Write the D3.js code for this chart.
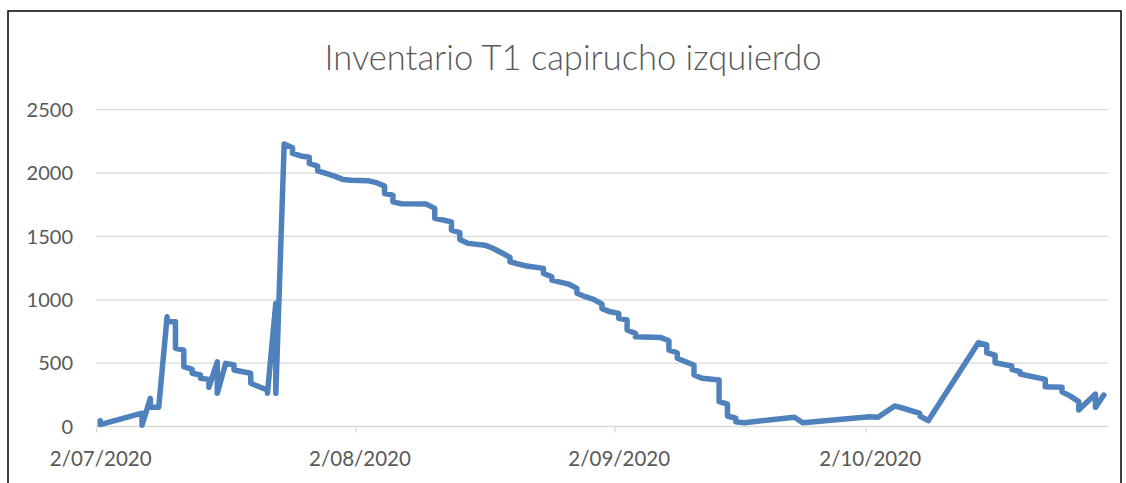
<!DOCTYPE html>
<html>
<head>
<meta charset="utf-8">
<script src="https://cdn.jsdelivr.net/npm/d3@7"></script>
<style>
  body { margin: 0; background: #fff; }
  svg { display: block; }
</style>
</head>
<body>
<script>
// stock movements, one entry per record (same date = vertical step)
const dates = [
  "2020-07-02","2020-07-02","2020-07-07","2020-07-07","2020-07-08","2020-07-08","2020-07-09",
  "2020-07-10","2020-07-10","2020-07-11","2020-07-11","2020-07-12","2020-07-12","2020-07-13","2020-07-13",
  "2020-07-14","2020-07-14","2020-07-15","2020-07-15","2020-07-16","2020-07-16","2020-07-17",
  "2020-07-18","2020-07-18","2020-07-20","2020-07-20","2020-07-21","2020-07-22","2020-07-22",
  "2020-07-23","2020-07-23","2020-07-24","2020-07-25","2020-07-25","2020-07-26","2020-07-27","2020-07-27",
  "2020-07-28","2020-07-28","2020-07-29","2020-07-30","2020-07-31","2020-08-01","2020-08-03","2020-08-04",
  "2020-08-05","2020-08-05","2020-08-06","2020-08-06","2020-08-07","2020-08-10","2020-08-11","2020-08-11",
  "2020-08-12","2020-08-13","2020-08-13","2020-08-14","2020-08-14","2020-08-15","2020-08-17","2020-08-18",
  "2020-08-19","2020-08-20","2020-08-20","2020-08-21","2020-08-22","2020-08-24","2020-08-24",
  "2020-08-25","2020-08-25","2020-08-27","2020-08-28","2020-08-28","2020-08-29","2020-08-30",
  "2020-08-31","2020-08-31","2020-09-01","2020-09-02","2020-09-02","2020-09-03","2020-09-03",
  "2020-09-04","2020-09-04","2020-09-07","2020-09-08","2020-09-08","2020-09-09","2020-09-09","2020-09-10",
  "2020-09-11","2020-09-11","2020-09-12","2020-09-14","2020-09-14","2020-09-15","2020-09-15",
  "2020-09-16","2020-09-16","2020-09-17","2020-09-23","2020-09-24","2020-10-02","2020-10-03",
  "2020-10-05","2020-10-06","2020-10-08","2020-10-08","2020-10-09","2020-10-15","2020-10-16","2020-10-16",
  "2020-10-17","2020-10-17","2020-10-19","2020-10-19","2020-10-20","2020-10-20","2020-10-23","2020-10-23",
  "2020-10-25","2020-10-25","2020-10-26","2020-10-27","2020-10-27","2020-10-29","2020-10-29","2020-10-30"
];
const stock = [
  45,15,105,10,222,151,151,
  866,826,826,617,603,472,451,420,
  406,380,372,309,511,262,498,
  485,446,420,341,314,288,262,
  972,262,2230,2200,2155,2135,2125,2076,
  2055,2017,1997,1976,1950,1944,1940,1925,
  1897,1839,1826,1773,1758,1755,1721,1642,
  1629,1615,1550,1530,1475,1445,1431,1405,
  1371,1334,1300,1282,1266,1248,1208,
  1182,1155,1124,1090,1051,1024,1003,
  965,930,905,893,853,840,761,
  735,708,703,677,603,582,538,511,
  485,406,380,367,196,177,83,
  65,38,30,73,30,77,73,
  162,144,104,83,46,661,643,582,
  564,503,477,451,432,414,372,314,
  309,274,240,196,130,256,151,248
];
const xStart = "2020-07-02", xEnd = "2020-10-31";
const xTickDates = ["2020-07-02","2020-08-02","2020-09-02","2020-10-02"];
const yTicks = [0, 500, 1000, 1500, 2000, 2500];
const title = "Inventario T1 capirucho izquierdo";

const W = 1126, H = 483;
const parse = d3.utcParse("%Y-%m-%d");
const fmt = d3.utcFormat("%-d/%m/%Y");
const DAY = 864e5;

const svg = d3.select("body").append("svg").attr("width", W).attr("height", H);

// chart frame
svg.append("rect")
  .attr("x", 8).attr("y", 11).attr("width", 1113).attr("height", 520)
  .attr("fill", "#fff").attr("stroke", "#000").attr("stroke-width", 1.5);

svg.append("text")
  .attr("x", 573).attr("y", 70)
  .attr("text-anchor", "middle")
  .attr("font-family", "Lato, sans-serif")
  .attr("font-weight", 300)
  .attr("font-size", 34.5)
  .attr("fill", "#595959")
  .text(title);

const x = d3.scaleUtc().domain([parse(xStart), parse(xEnd)]).range([96, 1108]);
const y = d3.scaleLinear().domain([0, 2500]).range([426.5, 109.7]);
const half = (x(new Date(parse(xStart).getTime() + DAY)) - x(parse(xStart))) / 2;

// gridlines
svg.append("g")
  .selectAll("line")
  .data(yTicks.slice(1))
  .enter()
  .append("line")
  .attr("x1", 96).attr("x2", 1108)
  .attr("y1", d => y(d)).attr("y2", d => y(d))
  .attr("stroke", "#d9d9d9").attr("stroke-width", 1.3);

// y labels
svg.append("g")
  .selectAll("text")
  .data(yTicks)
  .enter()
  .append("text")
  .attr("x", 73)
  .attr("y", d => y(d))
  .attr("dy", "0.36em")
  .attr("text-anchor", "end")
  .attr("font-family", "Lato, sans-serif")
  .attr("font-size", 20)
  .attr("fill", "#595959")
  .text(d => d);

// x axis (tick marks between day slots, labels centred on the slot)
const xAxis = svg.append("g")
  .attr("transform", `translate(0,${y(0)})`)
  .call(d3.axisBottom(x).tickValues(xTickDates.map(parse)).tickSize(6).tickFormat(fmt));
xAxis.select(".domain").attr("stroke", "#d9d9d9").attr("stroke-width", 1.3).attr("d", "M96,0H1108");
xAxis.selectAll(".tick line").attr("stroke", "#d9d9d9").attr("stroke-width", 1.3);
xAxis.selectAll(".tick text")
  .attr("x", half)
  .attr("y", 25)
  .attr("font-family", "Lato, sans-serif")
  .attr("font-size", 20.5)
  .attr("fill", "#595959");

const pts = dates.map((d, i) => [x(parse(d)) + half, y(stock[i])]);

svg.append("path")
  .datum(pts)
  .attr("fill", "none")
  .attr("stroke", "#4f81bd")
  .attr("stroke-width", 5.5)
  .attr("stroke-linejoin", "round")
  .attr("stroke-linecap", "round")
  .attr("d", d3.line());
</script>
</body>
</html>
